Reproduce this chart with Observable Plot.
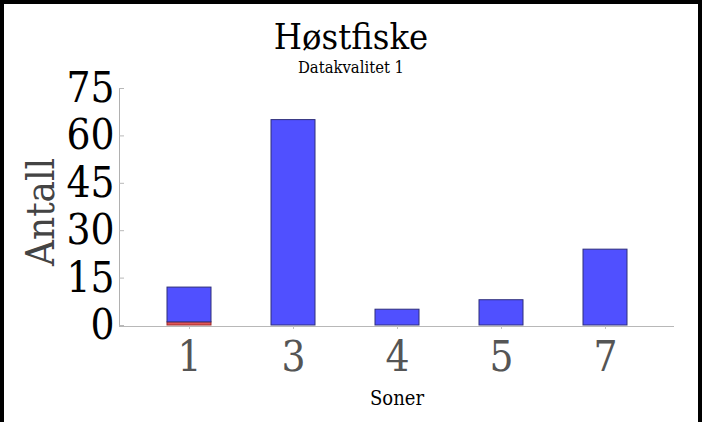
<!DOCTYPE html>
<html>
<head>
<meta charset="utf-8">
<script src="https://cdn.jsdelivr.net/npm/d3@7"></script>
<script src="https://cdn.jsdelivr.net/npm/@observablehq/plot@0.6"></script>
<style>
  html, body { margin: 0; padding: 0; background: #fff; }
  #frame {
    width: 702px; height: 422px; box-sizing: border-box;
    border: 4px solid #000; border-bottom: none;
    font-family: "DejaVu Serif Condensed", "DejaVu Serif", serif; font-stretch: condensed;
    position: relative; overflow: hidden;
  }
  #title { position: absolute; left: 0; right: 0; top: 15px; text-align: center; font-size: 36px; line-height: 36px; color: #000; }
  #subtitle { position: absolute; left: 0; right: 0; top: 55px; text-align: center; font-size: 16.5px; line-height: 17px; color: #000; }
  #chart svg { overflow: visible; background: transparent; display: block; }
</style>
</head>
<body>
<div id="frame">
  <div id="chart"></div>
  <div id="title">Høstfiske</div>
  <div id="subtitle">Datakvalitet 1</div>
</div>
<script>
const zones = ["1", "3", "4", "5", "7"];
const blueValues = [11, 65, 5, 8, 24];
const redValues = [1, 0, 0, 0, 0];
const yTicks = [0, 15, 30, 45, 60, 75];

const rows = [];
zones.forEach((z, i) => {
  rows.push({zone: z, series: "rød", value: redValues[i]});
  rows.push({zone: z, series: "blå", value: blueValues[i]});
});

const plot = Plot.plot({
  width: 694,
  height: 418,
  marginTop: 84,
  marginBottom: 97,
  marginLeft: 115,
  marginRight: 24,
  style: {fontFamily: "'DejaVu Serif Condensed', 'DejaVu Serif', serif", fontStretch: "condensed", background: "transparent", overflow: "visible"},
  x: {domain: zones, paddingInner: 0.578, paddingOuter: 0.451, label: null},
  y: {domain: [0, 75], label: null},
  color: {domain: ["rød", "blå"], range: ["#e25656", "#5050ff"]},
  marks: [
    Plot.barY(rows, {x: "zone", y: "value", fill: "series", stroke: d => d.series === "rød" ? "#9c2a2a" : "#2e2e7a", strokeWidth: 1, order: ["rød", "blå"]}),
    Plot.frame({anchor: "left", stroke: "#b0b0b0"}),
    Plot.ruleY([0], {stroke: "#b8b8b8", strokeWidth: 1, dy: 1}),
    Plot.axisY(yTicks, {anchor: "left", tickSize: 0, tickPadding: 5, fontSize: 42, fill: "#000", label: null}),
    Plot.axisY(yTicks, {anchor: "left", tickSize: -5, text: null, stroke: "#b8b8b8", label: null}),
    Plot.axisX({anchor: "bottom", tickSize: 3, tickPadding: 12, fontSize: 42, fill: "#555", stroke: "#c0c0c0", dy: 1, label: null}),
    Plot.text(["Antall"], {frameAnchor: "left", textAnchor: "middle", rotate: -90, dx: -78, dy: 5, fontSize: 40, fill: "#444"}),
    Plot.text(["Soner"], {frameAnchor: "bottom", dy: 79, fontSize: 20, fill: "#000"})
  ]
});
document.getElementById("chart").appendChild(plot);
</script>
</body>
</html>
